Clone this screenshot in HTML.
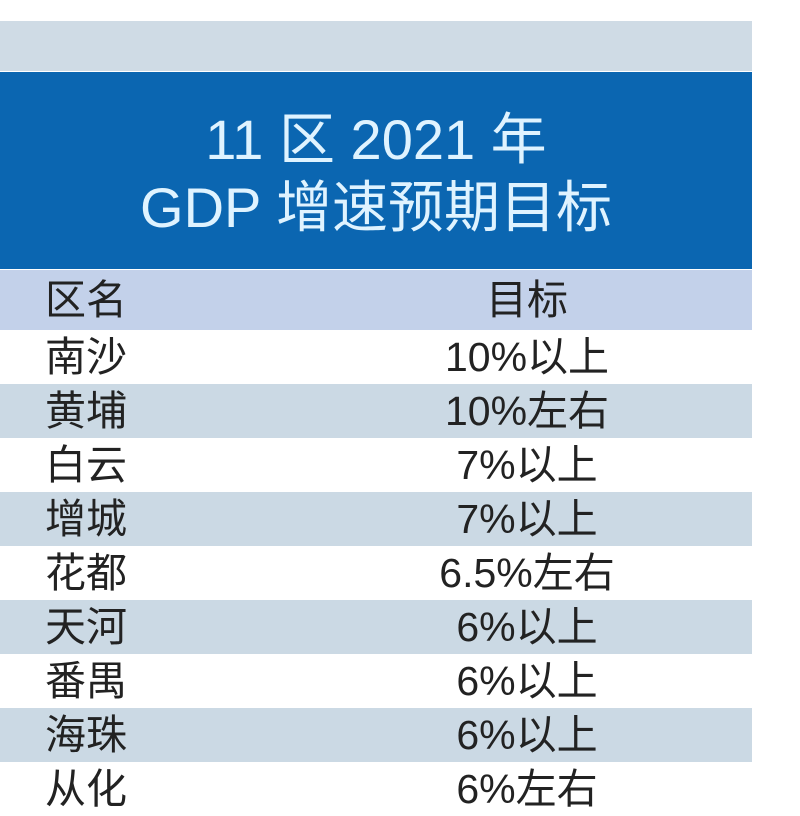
<!DOCTYPE html>
<html><head><meta charset="utf-8"><style>
body{margin:0;width:800px;height:794px;overflow:hidden;background:#fff;font-family:"Liberation Sans","Noto Sans CJK SC",sans-serif;position:relative}
div{position:absolute;box-sizing:border-box}
.row{left:0;width:752px;height:54px}
.name{left:45px;font-size:41px;color:#222;line-height:54px;top:0;white-space:nowrap}
.val{left:377px;width:300px;text-align:center;font-size:41px;color:#222;line-height:54px;top:0;white-space:nowrap}
.t{left:0;width:752px;text-align:center;color:#dff3ff;font-size:56px;line-height:64px;white-space:nowrap}
</style></head><body>
<div style="left:0;top:21px;width:752px;height:50px;background:#cfdbe5"></div>
<div style="left:0;top:72px;width:752px;height:197px;background:#0b66b1">
<div class="t" style="top:36px">11 区 2021 年</div>
<div class="t" style="top:104px">GDP 增速预期目标</div>
</div>
<div class="row" style="top:270px;height:60px;background:#c3d1ea">
<div class="name" style="line-height:60px">区名</div>
<div class="val" style="line-height:60px">目标</div>
</div>
<script>
const districts=["南沙","黄埔","白云","增城","花都","天河","番禺","海珠","从化"];
const targets=["10%以上","10%左右","7%以上","7%以上","6.5%左右","6%以上","6%以上","6%以上","6%左右"];
districts.forEach((d,i)=>{
 const r=document.createElement('div');
 r.className='row';
 
 
 r.style.top=(330+i*54)+'px';
 r.style.background=i%2?'#cbd9e4':'#fff';
 const n=document.createElement('div');n.className='name';n.textContent=d;
 
 
 const v=document.createElement('div');v.className='val';v.textContent=targets[i];
 
 
 r.appendChild(n);r.appendChild(v);document.body.appendChild(r);
});
</script>
</body></html>
